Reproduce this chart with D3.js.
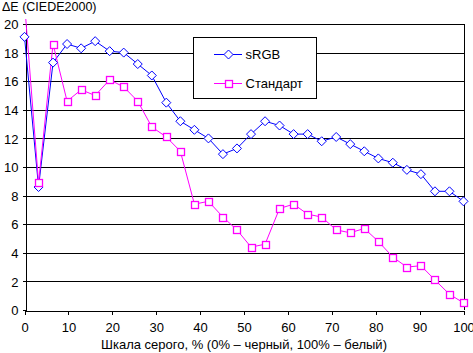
<!DOCTYPE html>
<html>
<head>
<meta charset="utf-8">
<script src="https://cdn.jsdelivr.net/npm/d3@7/dist/d3.min.js"></script>
<style>
    body { margin: 0; background: #fff; }
    svg { display: block; font-family: "Liberation Sans", Arial, sans-serif; }
</style>
</head>
<body>
<div id="chart"></div>
<script>
// gray levels, %
let grey = [0, 3.2, 6.5, 9.7, 12.9, 16.1, 19.4, 22.6, 25.8, 29.0, 32.3, 35.5, 38.7, 41.9, 45.2, 48.4,
    51.6, 54.8, 58.1, 61.3, 64.5, 67.7, 71.0, 74.2, 77.4, 80.6, 83.9, 87.1, 90.3, 93.5, 96.8, 100];

let srgb = [19.1, 8.6, 17.3, 18.6, 18.3, 18.8, 18.1, 18.0, 17.2, 16.4, 14.5, 13.2, 12.6, 12.0, 10.9, 11.3,
    12.3, 13.2, 12.9, 12.3, 12.3, 11.8, 12.1, 11.6, 11.1, 10.6, 10.3, 9.8, 9.5, 8.3, 8.3, 7.6];

let standard = [21.5, 8.9, 18.6, 14.6, 15.4, 15.0, 16.1, 15.6, 14.6, 12.8, 12.1, 11.1, 7.4, 7.6, 6.5, 5.6,
    4.4, 4.6, 7.1, 7.4, 6.7, 6.5, 5.6, 5.4, 5.7, 4.8, 3.7, 3.0, 3.1, 2.1, 1.1, 0.5];

let series_names = ['sRGB', 'Стандарт'];
let x_ticks = [0, 10, 20, 30, 40, 50, 60, 70, 80, 90, 100];
let y_ticks = [0, 2, 4, 6, 8, 10, 12, 14, 16, 18, 20];

let width = 473, height = 353;
let plot_left = 24.5, plot_right = 463.5, plot_top = 24, plot_bottom = 310;

let svg = d3.select('#chart')
    .append('svg')
    .attr('width', width)
    .attr('height', height);

let x = d3.scaleLinear().domain([0, 100]).range([plot_left, plot_right]);
let y = d3.scaleLinear().domain([0, 20]).range([plot_bottom, plot_top]);

// grid
svg.append('g')
    .selectAll('line')
    .data(y_ticks.filter(function (d) { return d > 0; }))
    .join('line')
    .attr('x1', plot_left)
    .attr('x2', plot_right)
    .attr('y1', function (d) { return Math.round(y(d)) + 0.5; })
    .attr('y2', function (d) { return Math.round(y(d)) + 0.5; })
    .attr('stroke', '#000');

svg.append('line')
    .attr('x1', Math.round(plot_right) + 0.5).attr('x2', Math.round(plot_right) + 0.5)
    .attr('y1', plot_top).attr('y2', plot_bottom)
    .attr('stroke', '#000');

// axes
let x_axis = d3.axisBottom(x).tickValues(x_ticks).tickSize(4).tickSizeOuter(0).tickPadding(8);
let y_axis = d3.axisLeft(y).tickValues(y_ticks).tickSize(3).tickSizeOuter(0).tickPadding(4);

let gx = svg.append('g')
    .attr('transform', 'translate(0,' + (Math.round(plot_bottom) + 0.5) + ')')
    .call(x_axis);
let gy = svg.append('g')
    .attr('transform', 'translate(' + (Math.round(plot_left) + 0.5) + ',0)')
    .call(y_axis);

[gx, gy].forEach(function (g) {
    g.selectAll('path, line').attr('stroke', '#000').attr('shape-rendering', 'crispEdges');
    g.selectAll('text').attr('font-size', '13px').attr('font-family', '"Liberation Sans", Arial, sans-serif').attr('fill', '#000');
});
gy.selectAll('text').attr('dy', '0.36em');

svg.selectAll('line').attr('shape-rendering', 'crispEdges');

// titles
svg.append('text')
    .attr('x', 2)
    .attr('y', 11)
    .attr('font-size', '12.5px')
    .text('ΔE (CIEDE2000)');

svg.append('text')
    .attr('x', (plot_left + plot_right) / 2)
    .attr('y', 349)
    .attr('text-anchor', 'middle')
    .attr('font-size', '13px')
    .text('Шкала серого, % (0% – черный, 100% – белый)');

// clip
svg.append('clipPath').attr('id', 'plot')
    .append('rect')
    .attr('x', 0).attr('y', 19)
    .attr('width', width).attr('height', plot_bottom - 19 + 10);

let line = d3.line()
    .x(function (d, i) { return x(grey[i]); })
    .y(function (d) { return y(d); });

let plot = svg.append('g').attr('clip-path', 'url(#plot)');

function diamond(g, cx, cy, r)
{
    g.append('path')
        .attr('d', 'M' + cx + ',' + (cy - r) + 'L' + (cx + r) + ',' + cy + 'L' + cx + ',' + (cy + r) + 'L' + (cx - r) + ',' + cy + 'Z')
        .attr('fill', '#fff')
        .attr('stroke', '#0000ff')
        .attr('stroke-width', 1);
}

function square(g, cx, cy, r)
{
    g.append('rect')
        .attr('x', Math.round(cx - r) + 0.5)
        .attr('y', Math.round(cy - r) + 0.5)
        .attr('width', 2 * r)
        .attr('height', 2 * r)
        .attr('fill', '#fff')
        .attr('stroke', '#ff00ff')
        .attr('stroke-width', 1.3);
}

plot.append('path')
    .datum(srgb)
    .attr('d', line)
    .attr('fill', 'none')
    .attr('stroke', '#0000ff')
    .attr('stroke-width', 1);

plot.append('path')
    .datum(standard)
    .attr('d', line)
    .attr('fill', 'none')
    .attr('stroke', '#ff00ff')
    .attr('stroke-width', 1);

let marks = plot.append('g');
srgb.forEach(function (d, i) { diamond(marks, x(grey[i]), y(d), 4.5); });
standard.forEach(function (d, i) { square(marks, x(grey[i]), y(d), 3.5); });

// legend
let legend = svg.append('g');
legend.append('rect')
    .attr('x', 193.5).attr('y', 37.5)
    .attr('width', 123).attr('height', 61)
    .attr('fill', '#fff')
    .attr('stroke', '#000')
    .attr('shape-rendering', 'crispEdges');

let legend_y = [54, 83];
let legend_colors = ['#0000ff', '#ff00ff'];
series_names.forEach(function (name, i) {
    legend.append('line')
        .attr('x1', 214).attr('x2', 242)
        .attr('y1', legend_y[i] + 0.5).attr('y2', legend_y[i] + 0.5)
        .attr('stroke', legend_colors[i])
        .attr('shape-rendering', 'crispEdges');
    if (i === 0) diamond(legend, 228.5, legend_y[i] + 0.5, 4.5);
    else square(legend, 228.5, legend_y[i] + 0.5, 3.5);
    legend.append('text')
        .attr('x', 245.5)
        .attr('y', legend_y[i] + 5)
        .attr('font-size', '13px')
        .text(name);
});
</script>
</body>
</html>
